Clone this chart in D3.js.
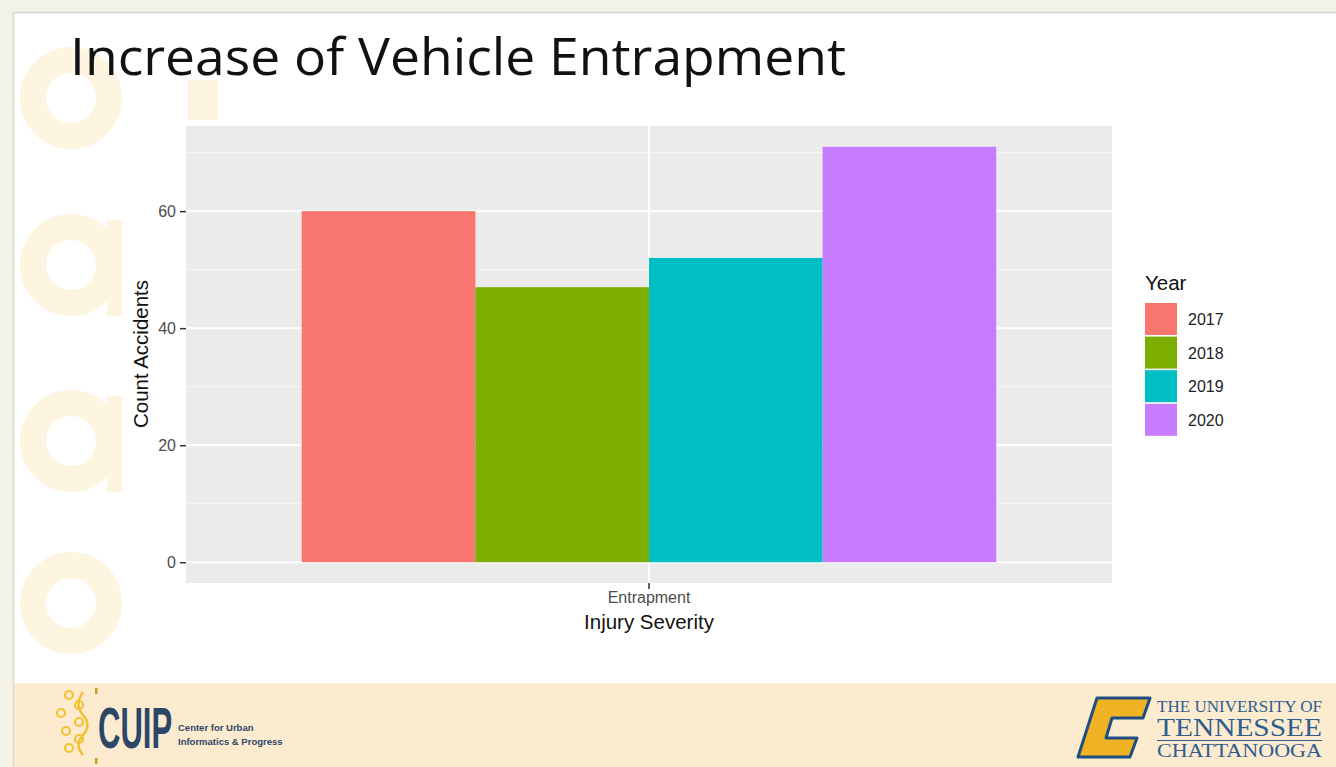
<!DOCTYPE html>
<html>
<head>
<meta charset="utf-8">
<script src="https://cdn.jsdelivr.net/npm/d3@7"></script>
<style>
  body { margin: 0; background: #f3f2e7; }
  svg { display: block; }
</style>
</head>
<body>
<script>
// chart data
const categories = ["Entrapment"];
const years = ["2017", "2018", "2019", "2020"];
const counts = [60, 47, 52, 71];
const yTicks = [0, 20, 40, 60];
const yMinor = [10, 30, 50, 70];
const colors = ["#F8766D", "#7CAE00", "#00BFC4", "#C77CFF"];

const width = 1336, height = 767;
const font = "'Liberation Sans', Arial, sans-serif";
const svg = d3.select("body").append("svg")
    .attr("width", width)
    .attr("height", height);

// slide background
svg.append("rect").attr("x", 13).attr("y", 12).attr("width", width - 13).attr("height", height - 12)
    .attr("fill", "#ffffff");
svg.append("line").attr("x1", 13).attr("x2", width).attr("y1", 12.5).attr("y2", 12.5)
    .attr("stroke", "#d4d4cc").attr("stroke-width", 1.5);
svg.append("line").attr("x1", 13.5).attr("x2", 13.5).attr("y1", 12).attr("y2", height)
    .attr("stroke", "#d8d8d0").attr("stroke-width", 1.5);

// faint watermark rings on the left
const ringY = [98, 265, 441, 603];
const wmColor = "#fef5e1";
const wm = svg.append("g").attr("fill", wmColor);
ringY.forEach((cy, i) => {
    wm.append("circle").attr("cx", 71).attr("cy", cy).attr("r", 38)
        .attr("fill", "none").attr("stroke", wmColor).attr("stroke-width", 26);
    if (i === 1 || i === 2) {
        wm.append("rect").attr("x", 107).attr("y", cy - 45).attr("width", 15).attr("height", 96);
    }
});
wm.append("rect").attr("x", 188).attr("y", 80).attr("width", 30).attr("height", 40);

// title
svg.append("text")
    .attr("x", 70).attr("y", 75)
    .attr("font-family", "'Open Sans', 'DejaVu Sans', sans-serif")
    .attr("font-size", 52)
    .attr("fill", "#111")
    .attr("textLength", 776)
    .attr("lengthAdjust", "spacingAndGlyphs")
    .text("Increase of Vehicle Entrapment");

// panel
const panel = { left: 186, right: 1112, top: 126, bottom: 583 };
const maxV = d3.max(counts);
const y = d3.scaleLinear()
    .domain([-0.05 * maxV, maxV * 1.05])
    .range([panel.bottom, panel.top]);

const x = d3.scaleBand()
    .domain(categories)
    .range([panel.left, panel.right])
    .paddingInner(0)
    .paddingOuter(0.125); // approximates ggplot 0.6 expansion with width 0.9

const g = svg.append("g");
g.append("rect")
    .attr("x", panel.left).attr("y", panel.top)
    .attr("width", panel.right - panel.left).attr("height", panel.bottom - panel.top)
    .attr("fill", "#ebebeb");

g.selectAll(".minor").data(yMinor).join("line")
    .attr("x1", panel.left).attr("x2", panel.right)
    .attr("y1", d => y(d)).attr("y2", d => y(d))
    .attr("stroke", "#f7f7f7").attr("stroke-width", 1);
g.selectAll(".major").data(yTicks).join("line")
    .attr("x1", panel.left).attr("x2", panel.right)
    .attr("y1", d => y(d)).attr("y2", d => y(d))
    .attr("stroke", "#ffffff").attr("stroke-width", 2);
const cx = x("Entrapment") + x.bandwidth() / 2;
g.append("line")
    .attr("x1", cx).attr("x2", cx).attr("y1", panel.top).attr("y2", panel.bottom)
    .attr("stroke", "#ffffff").attr("stroke-width", 2);

// dodged bars, 0.9 of the category slot
const slot = (panel.right - panel.left) / 1.2;
const x1 = d3.scaleBand()
    .domain(years)
    .range([cx - slot * 0.45, cx + slot * 0.45]);

g.selectAll(".bar").data(counts).join("rect")
    .attr("x", (d, i) => x1(years[i]))
    .attr("width", x1.bandwidth())
    .attr("y", d => y(d))
    .attr("height", d => y(0) - y(d))
    .attr("fill", (d, i) => colors[i]);

// y axis
const yAxis = svg.append("g")
    .attr("transform", `translate(${panel.left},0)`)
    .call(d3.axisLeft(y).tickValues(yTicks).tickSize(6).tickPadding(4));
yAxis.select(".domain").remove();
yAxis.selectAll("line").attr("stroke", "#333").attr("stroke-width", 1.5);
yAxis.selectAll("text")
    .attr("font-family", font)
    .attr("font-size", 16).attr("fill", "#4d4d4d");

// x axis
const xAxis = svg.append("g")
    .attr("transform", `translate(0,${panel.bottom})`)
    .call(d3.axisBottom(x).tickSize(6).tickPadding(3));
xAxis.select(".domain").remove();
xAxis.selectAll("line").attr("stroke", "#333").attr("stroke-width", 1.5);
xAxis.selectAll("text")
    .attr("font-family", font)
    .attr("font-size", 16).attr("fill", "#4d4d4d");

// axis titles
svg.append("text")
    .attr("x", cx).attr("y", 629)
    .attr("text-anchor", "middle")
    .attr("font-family", font)
    .attr("font-size", 20.5).attr("fill", "#111")
    .text("Injury Severity");
svg.append("text")
    .attr("transform", `translate(148,354) rotate(-90)`)
    .attr("text-anchor", "middle")
    .attr("font-family", font)
    .attr("font-size", 20.5).attr("fill", "#111")
    .text("Count Accidents");

// legend
const legend = svg.append("g").attr("transform", "translate(1145,0)");
legend.append("text")
    .attr("x", 0).attr("y", 290)
    .attr("font-family", font)
    .attr("font-size", 20.5).attr("fill", "#111")
    .text("Year");
const key = legend.selectAll(".key").data(years).join("g")
    .attr("transform", (d, i) => `translate(0,${303 + i * 33.6})`);
key.append("rect")
    .attr("width", 32).attr("height", 32)
    .attr("fill", (d, i) => colors[i]);
key.append("text")
    .attr("x", 43).attr("y", 22)
    .attr("font-family", font)
    .attr("font-size", 16).attr("fill", "#222")
    .text(d => d);

// footer band
svg.append("rect").attr("x", 14).attr("y", 683).attr("width", width - 14).attr("height", height - 683)
    .attr("fill", "#fdebd0");

// CUIP logo (approximate)
const cuip = svg.append("g");
[[69, 695], [79, 705], [61, 713], [79, 722], [66, 731], [79, 739], [69, 748]].forEach(p => {
    cuip.append("circle").attr("cx", p[0]).attr("cy", p[1]).attr("r", 4)
        .attr("fill", "none").attr("stroke", "#f2c230").attr("stroke-width", 2.2);
});
cuip.append("path")
    .attr("d", "M83,692 Q74,705 83,715 Q92,725 83,735 Q74,745 83,755")
    .attr("fill", "none").attr("stroke", "#f2c230").attr("stroke-width", 2.5);
cuip.append("rect").attr("x", 95).attr("y", 688).attr("width", 2.5).attr("height", 6).attr("fill", "#c8a020");
cuip.append("rect").attr("x", 95).attr("y", 758).attr("width", 2.5).attr("height", 6).attr("fill", "#c8a020");
// condensed wordmark: squeeze horizontally so its box stays clear of the tagline
cuip.append("g")
    .attr("transform", "translate(98,748) scale(0.535,1)")
  .append("text")
    .attr("x", 0).attr("y", 0)
    .attr("font-family", font)
    .attr("font-weight", "bold").attr("font-size", 58).attr("fill", "#2c4668")
    .text("CUIP");
cuip.append("text")
    .attr("x", 178).attr("y", 731)
    .attr("font-family", font)
    .attr("font-weight", "bold").attr("font-size", 9.5).attr("fill", "#2c4668")
    .text("Center for Urban");
cuip.append("text")
    .attr("x", 178).attr("y", 745)
    .attr("font-family", font)
    .attr("font-weight", "bold").attr("font-size", 9.5).attr("fill", "#2c4668")
    .text("Informatics & Progress");

// UTC logo (approximate)
const utc = svg.append("g");
utc.append("path")
    .attr("d", "M1097,698 L1150,698 L1143,718 L1112,718 L1106,738 L1137,738 L1130,757 L1078,757 Z")
    .attr("fill", "#f0b323").attr("stroke", "#1f4e82").attr("stroke-width", 3)
    .attr("stroke-linejoin", "round");
const serif = "'Liberation Serif', 'DejaVu Serif', serif";
utc.append("text").attr("x", 1157).attr("y", 712)
    .attr("font-family", serif).attr("font-size", 16).attr("fill", "#2f5e8e")
    .attr("textLength", 165).attr("lengthAdjust", "spacingAndGlyphs")
    .text("THE UNIVERSITY OF");
utc.append("text").attr("x", 1157).attr("y", 736)
    .attr("font-family", serif).attr("font-size", 26).attr("fill", "#2f5e8e")
    .attr("textLength", 165).attr("lengthAdjust", "spacingAndGlyphs")
    .text("TENNESSEE");
utc.append("line").attr("x1", 1157).attr("x2", 1322).attr("y1", 740.5).attr("y2", 740.5)
    .attr("stroke", "#2f5e8e").attr("stroke-width", 1.2);
utc.append("text").attr("x", 1157).attr("y", 757)
    .attr("font-family", serif).attr("font-size", 18).attr("fill", "#2f5e8e")
    .attr("textLength", 165).attr("lengthAdjust", "spacingAndGlyphs")
    .text("CHATTANOOGA");
</script>
</body>
</html>
